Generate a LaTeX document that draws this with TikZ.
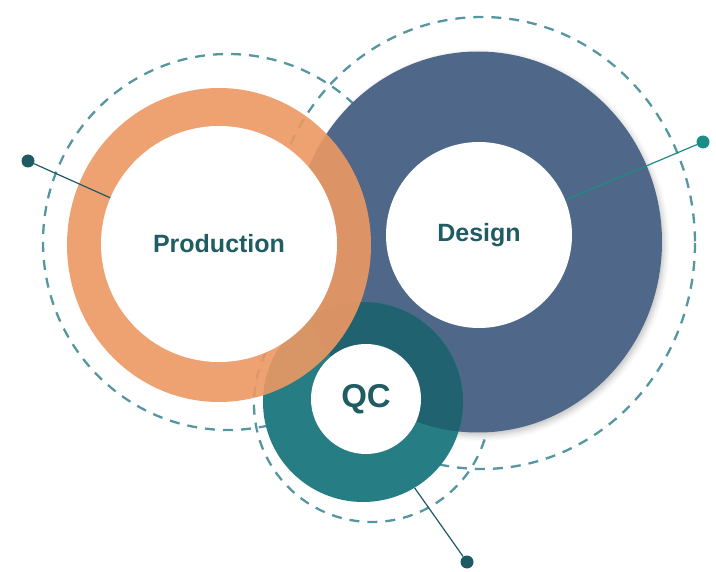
\documentclass[tikz,border=0pt]{standalone}
\usepackage{fontspec}
\setmainfont{Liberation Sans}
\usepackage{tikz}
\usetikzlibrary{shapes.geometric,shadows.blur}

\definecolor{ringorange}{HTML}{EC9862}
\definecolor{ringblue}{HTML}{4F6889}
\definecolor{ringteal}{HTML}{267D83}
\definecolor{tealdark}{HTML}{20626F}
\definecolor{dashteal}{HTML}{5596A0}
\definecolor{labelteal}{HTML}{1F5C63}
\definecolor{dotdark}{HTML}{1D5A64}
\definecolor{dotlight}{HTML}{1C8C86}

\begin{document}
\begin{tikzpicture}[x=1pt, y=-1pt,
        disc/.style={ellipse, inner sep=0pt},
        hole/.style={circle, fill=white, inner sep=0pt, text=labelteal,
            font=\bfseries\fontsize{25}{30}\selectfont},
        orbit/.style={draw=dashteal, line width=2.3pt, dash pattern=on 10pt off 8pt},
        link/.style={line width=1.2pt},
        dot/.style={circle, inner sep=0pt, minimum size=13pt}]

        \useasboundingbox (0,0) rectangle (716,572);

        % Dashed orbits, behind everything
        \begin{scope}
            \draw[orbit] (228,242) ellipse [x radius=185, y radius=188];
            \draw[orbit] (482,243) ellipse [x radius=213, y radius=226];
            \draw[orbit] (372,404) circle [radius=118];
        \end{scope}

        % Design ring
        \node[disc, fill=ringblue, minimum width=368pt, minimum height=381pt,
            blur shadow={shadow xshift=2pt, shadow yshift=-3pt,
                shadow blur radius=6pt, shadow opacity=25}] (designring) at (478,242) {};
        \node[hole, minimum size=186pt] (design) at (479,235) {Design};

        % QC ring, darker where it lies on the Design ring
        \node[circle, inner sep=0pt, fill=ringteal, minimum size=200pt] (qcring) at (363,402) {};
        \begin{scope}
            \clip (478,242) ellipse [x radius=184, y radius=190.5];
            \fill[tealdark] (363,402) circle [radius=100];
        \end{scope}
        \node[hole, minimum size=110pt, font=\bfseries\fontsize{33}{38}\selectfont] (qc) at (366,399) {QC};

        % Production ring on top
        \node[disc, fill=ringorange, fill opacity=0.9, minimum width=304pt, minimum height=314pt] (prodring) at (219,245) {};
        \node[hole, minimum size=236pt] (prod) at (219,244) {Production};

        % Pins
        \node[dot, fill=dotdark] (pinprod) at (28,161) {};
        \node[dot, fill=dotlight] (pindesign) at (703,142) {};
        \node[dot, fill=dotdark] (pinqc) at (467,562) {};

        \draw[link, draw=dotdark] (pinprod) -- (prod.157);
        \draw[link, draw=dotlight] (pindesign) -- (design.22);
        \draw[link, draw=dotdark] (pinqc) -- (qcring.-59);

    \end{tikzpicture}
\end{document}
